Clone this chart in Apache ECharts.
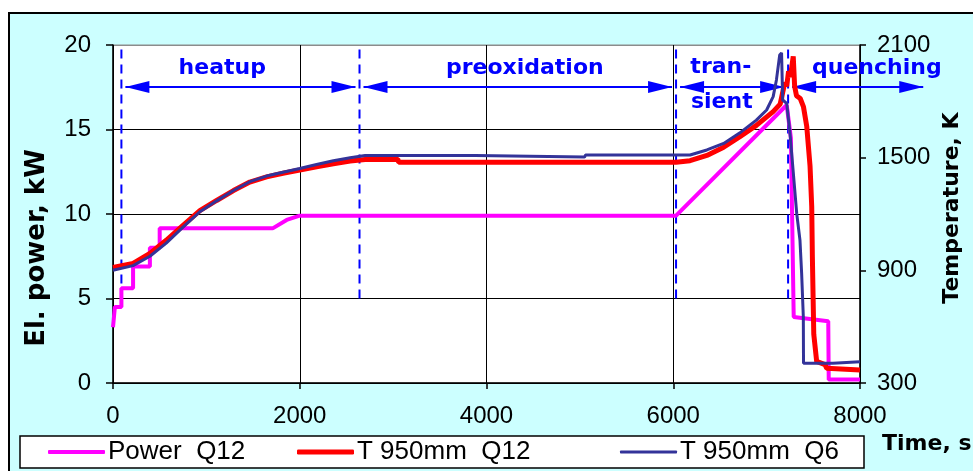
<!DOCTYPE html>
<html><head><meta charset="utf-8">
<script src="https://cdn.jsdelivr.net/npm/echarts@6/dist/echarts.min.js"></script>
<style>html,body{margin:0;padding:0;background:#fff;}#c{width:973px;height:471px;}</style>
</head><body><div id="c"></div>
<script>
// ---- data ----
const timeTicks = [0, 2000, 4000, 6000, 8000];
const powerTicks = [0, 5, 10, 15, 20];
const tempTicks = [300, 900, 1500, 2100];
const seriesNames = ['Power  Q12', 'T 950mm  Q12', 'T 950mm  Q6'];

// [time s, power kW]
const powerQ12 = [[0,3.3],[20,4.5],[90,4.5],[90,5.6],[215,5.6],[215,6.9],[395,6.9],[395,8.0],[500,8.0],[500,9.15],[1000,9.15],[1710,9.15],[1860,9.65],[2000,9.9],[4000,9.9],[6030,9.9],[7215,16.45],[7260,14.5],[7290,3.9],[7660,3.65],[7665,0.2],[8000,0.2]];
// [time s, temperature K]
const tempQ12 = [[0,915],[215,937],[395,990],[570,1060],[750,1140],[930,1218],[1110,1272],[1290,1325],[1465,1370],[1645,1398],[1820,1417],[2000,1434],[2180,1452],[2360,1468],[2540,1482],[2700,1490],[3050,1492],[3060,1476],[6030,1476],[6180,1484],[6360,1512],[6540,1556],[6710,1610],[6890,1672],[7070,1745],[7145,1785],[7195,1900],[7215,1880],[7235,1960],[7255,1930],[7285,2040],[7300,1880],[7320,1830],[7360,1815],[7395,1770],[7430,1665],[7465,1455],[7483,1240],[7490,970],[7505,560],[7536,415],[7625,398],[7643,378],[8000,369]];
const tempQ6 = [[0,900],[215,925],[395,975],[570,1045],[750,1130],[930,1212],[1110,1270],[1290,1325],[1465,1372],[1645,1402],[1820,1422],[2000,1442],[2180,1464],[2360,1484],[2540,1500],[2700,1512],[3880,1512],[3890,1503],[5050,1503],[5060,1514],[6180,1514],[6360,1541],[6540,1576],[6710,1631],[6890,1700],[7000,1754],[7070,1825],[7105,1914],[7140,2047],[7160,2058],[7172,1807],[7215,1789],[7250,1631],[7286,1418],[7322,1204],[7357,1061],[7375,884],[7393,653],[7395,405],[7710,405],[7715,413],[8000,413]];

// phase annotations (time s, power-axis kW)
const phaseBounds = [90, 2640, 6030, 7230, 8720];
const dashFromKW = 5, dashToKW = 20, arrowKW = 17.52;
const phaseLabels = ['heatup', 'preoxidation', 'tran-', 'sient', 'quenching'];
const phaseLabelTime = [1170, 4410, 6510, 6520, 8180];
const phaseLabelKW = [18.64, 18.64, 18.7, 16.63, 18.64];

// ---- chart ----
const chart = echarts.init(document.getElementById('c'));
const FONT = '"Liberation Sans", Arial, sans-serif';
const BOLD = '"DejaVu Sans", Verdana, sans-serif';
const plain = v => String(v);
const tickLabel = {fontFamily: FONT, fontSize: 24, color: '#000', formatter: plain};
const colors = ['#ff00ff', '#ff0000', '#333399'];
const widths = [4, 5, 3];

function legendFor(i, left) {
  return {
    data: [seriesNames[i]], left: left, top: 439, padding: 0, itemGap: 0,
    itemWidth: 57, itemHeight: widths[i], icon: 'roundRect', selectedMode: false, z: 5,
    textStyle: {fontFamily: FONT, fontSize: 26, lineHeight: 26, color: '#000', padding: [0, 0, 0, -2]}
  };
}

chart.setOption({
  animation: false,
  backgroundColor: 'transparent',
  textStyle: {fontFamily: FONT, color: '#000'},
  grid: {left: 113, top: 45, width: 747, height: 338, show: true, backgroundColor: '#ffffff', borderColor: '#8c8c8c', borderWidth: 1},
  xAxis: {
    type: 'value', min: timeTicks[0], max: timeTicks[timeTicks.length - 1], interval: 2000,
    axisLine: {show: true, onZero: false, lineStyle: {color: '#000', width: 1.5}},
    axisTick: {show: true, length: 6, lineStyle: {color: '#000', width: 1.5}},
    axisLabel: Object.assign({margin: 21, showMinLabel: true, showMaxLabel: true}, tickLabel),
    splitLine: {show: true, lineStyle: {color: '#000', width: 1}}
  },
  yAxis: [{
    type: 'value', min: powerTicks[0], max: powerTicks[powerTicks.length - 1], interval: 5, position: 'left',
    axisLine: {show: true, lineStyle: {color: '#000', width: 1.5}},
    axisTick: {show: true, length: 7, lineStyle: {color: '#000', width: 1.5}},
    axisLabel: Object.assign({margin: 22}, tickLabel),
    splitLine: {show: true, lineStyle: {color: ['#000', '#000', '#000', '#000', '#8c8c8c'], width: 1}}
  }, {
    type: 'value', min: tempTicks[0], max: tempTicks[tempTicks.length - 1], position: 'right',
    axisLine: {show: true, lineStyle: {color: '#000', width: 1.5}},
    axisTick: {show: true, length: 6, customValues: tempTicks, lineStyle: {color: '#000', width: 1.5}},
    axisLabel: Object.assign({margin: 17, customValues: tempTicks}, tickLabel),
    splitLine: {show: false}
  }],
  legend: [legendFor(0, 48), legendFor(1, 297), legendFor(2, 620)],
  series: [
    {name: seriesNames[0], type: 'line', yAxisIndex: 0, data: powerQ12, showSymbol: false, symbol: 'none',
     itemStyle: {color: colors[0]}, lineStyle: {color: colors[0], width: widths[0]}, z: 3},
    {name: seriesNames[1], type: 'line', yAxisIndex: 1, data: tempQ12, showSymbol: false, symbol: 'none',
     itemStyle: {color: colors[1]}, lineStyle: {color: colors[1], width: widths[1]}, z: 4},
    {name: seriesNames[2], type: 'line', yAxisIndex: 1, data: tempQ6, showSymbol: false, symbol: 'none',
     itemStyle: {color: colors[2]}, lineStyle: {color: colors[2], width: widths[2]}, z: 5}
  ]
});

// ---- annotations & frame (positions derived from data via the axes) ----
const px = (t, v) => chart.convertToPixel({xAxisIndex: 0, yAxisIndex: 0}, [t, v]);
const BLUE = '#0000ff';
const els = [];
els.push({type: 'rect', z: -10, silent: true, shape: {x: 9, y: 13, width: 990, height: 480},
          style: {fill: '#ccffff', stroke: '#000', lineWidth: 2}});
els.push({type: 'rect', z: 1, silent: true, shape: {x: 20, y: 436, width: 844, height: 32},
          style: {fill: '#ffffff', stroke: '#000', lineWidth: 1.5}});
// dashed phase boundaries
for (let i = 0; i < 4; i++) {
  const a = px(phaseBounds[i], dashFromKW), b = px(phaseBounds[i], dashToKW);
  els.push({type: 'line', z: 1, silent: true, shape: {x1: a[0], y1: a[1], x2: b[0], y2: b[1]},
            style: {stroke: BLUE, lineWidth: 2, lineDash: [9, 6]}});
}
// double arrows
function arrowHead(tipX, y, dir) {
  const L = 24, W = 6;
  return {type: 'polygon', z: 1, silent: true,
          shape: {points: [[tipX, y], [tipX - dir * L, y - W], [tipX - dir * L, y + W]]},
          style: {fill: BLUE}};
}
for (let i = 0; i < 4; i++) {
  const a = px(phaseBounds[i], arrowKW), b = px(phaseBounds[i + 1], arrowKW);
  const x1 = a[0] + 4, x2 = b[0] - 4, y = a[1];
  els.push({type: 'line', z: 1, silent: true, shape: {x1: x1, y1: y, x2: x2, y2: y}, style: {stroke: BLUE, lineWidth: 2}});
  els.push(arrowHead(x1, y, -1));
  els.push(arrowHead(x2, y, 1));
}
// phase labels
for (let i = 0; i < phaseLabels.length; i++) {
  const p = px(phaseLabelTime[i], phaseLabelKW[i]);
  els.push({type: 'text', z: 6, silent: true, x: p[0], y: p[1],
            style: {text: phaseLabels[i], fill: BLUE, font: 'bold 22px ' + BOLD,
                    align: 'center', verticalAlign: 'middle', textAlign: 'center', textVerticalAlign: 'middle'}});
}
// axis titles
els.push({type: 'text', z: 6, silent: true, x: 37, y: 248, rotation: Math.PI / 2,
          style: {text: 'El. power, kW', fill: '#000', font: 'bold 26px ' + BOLD,
                  align: 'center', verticalAlign: 'middle', textAlign: 'center', textVerticalAlign: 'middle'}});
els.push({type: 'text', z: 6, silent: true, x: 952, y: 208, rotation: Math.PI / 2,
          style: {text: 'Temperature, K', fill: '#000', font: 'bold 22px ' + BOLD,
                  align: 'center', verticalAlign: 'middle', textAlign: 'center', textVerticalAlign: 'middle'}});
els.push({type: 'text', z: 6, silent: true, x: 882, y: 444,
          style: {text: 'Time, s', fill: '#000', font: 'bold 22px ' + BOLD,
                  align: 'left', verticalAlign: 'middle', textAlign: 'left', textVerticalAlign: 'middle'}});
chart.setOption({graphic: {elements: els}});
</script>
</body></html>
